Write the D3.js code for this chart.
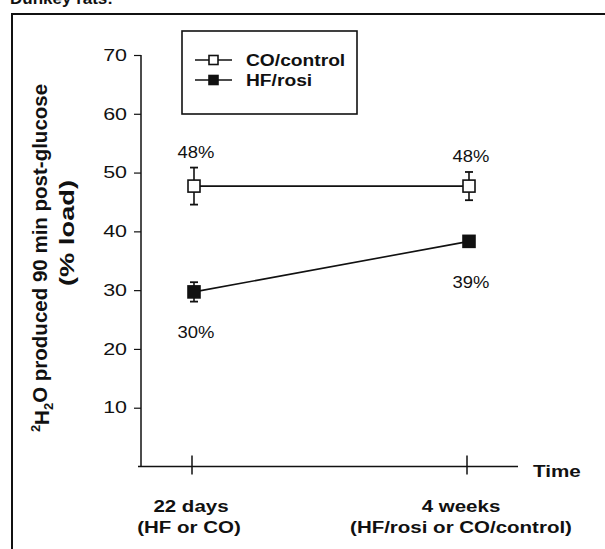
<!DOCTYPE html>
<html lang="en">
<head>
  <meta charset="UTF-8">
  <title>2H2O produced 90 min post-glucose</title>
  <script src="https://d3js.org/d3.v7.min.js"></script>
  <style>
    body { margin: 0; background: #fff; font-family: "Liberation Sans", Arial, sans-serif; }
    text { fill: #111; }
    .bold { font-weight: bold; }
  </style>
</head>
<body>
  <svg width="605" height="549"></svg>
  <script>
    // Data
    const timepoints = ["22 days", "4 weeks"];
    const timeSub = ["(HF or CO)", "(HF/rosi or CO/control)"];
    const seriesNames = ["CO/control", "HF/rosi"];
    const coMean = [47.7, 47.7];
    const coErr = [3.15, 2.4];
    const hfMean = [29.7, 38.3];
    const hfErr = [1.65, 0.9];
    const pctLabels = [["48%", "48%"], ["30%", "39%"]];
    const yTicks = [10, 20, 30, 40, 50, 60, 70];

    const width = 605, height = 549;
    const svg = d3.select("svg").attr("width", width).attr("height", height);

    // the scanned figure is a bit wider than tall: stretch horizontal text
    function stretch(sel, k) {
      sel.each(function () {
        const w = this.getComputedTextLength();
        d3.select(this).attr("textLength", w * k).attr("lengthAdjust", "spacingAndGlyphs");
      });
    }

    // Outer frame (cut by the page edges) and cut-off heading
    svg.append("text").attr("class", "bold").attr("x", 10).attr("y", 4)
       .style("font-size", "17px").text("Dunkey rats:");
    svg.append("path").attr("d", "M12,549 V14 H605")
       .attr("fill", "none").attr("stroke", "#111").attr("stroke-width", 2);

    const y = d3.scaleLinear().domain([0, 70]).range([466.5, 55]);
    const x = d3.scalePoint().domain(timepoints).range([194, 469]);

    // Y axis
    const yAxis = svg.append("g").attr("transform", "translate(141,0)")
      .call(d3.axisLeft(y).tickValues(yTicks).tickSize(7).tickPadding(7).tickSizeOuter(0));
    yAxis.select(".domain").attr("d", "M0," + y(70) + "V" + y(0)).attr("stroke", "#111").attr("stroke-width", 1.5);
    yAxis.selectAll(".tick line").attr("stroke", "#111").attr("stroke-width", 1.2);
    yAxis.selectAll(".tick text").style("font-size", "16.5px")
         .style("font-family", "'Liberation Sans', Arial, sans-serif").attr("fill", "#111")
         .call(stretch, 1.3);

    // X axis line with ticks and "Time"
    svg.append("line").attr("x1", 138).attr("x2", 518).attr("y1", y(0)).attr("y2", y(0))
       .attr("stroke", "#111").attr("stroke-width", 1.5);
    svg.selectAll(".xtick").data(timepoints).enter().append("line")
       .attr("x1", d => x(d) - 2).attr("x2", d => x(d) - 2)
       .attr("y1", y(0) - 11).attr("y2", y(0) + 8)
       .attr("stroke", "#111").attr("stroke-width", 1.5);
    svg.append("text").attr("class", "bold").attr("x", 533).attr("y", y(0) + 10)
       .style("font-size", "16.5px").text("Time").call(stretch, 1.25);

    svg.selectAll(".xl1").data(timepoints).enter().append("text")
       .attr("class", "bold").attr("text-anchor", "middle")
       .attr("x", (d, i) => x(d) - (i ? 8 : 3)).attr("y", 512)
       .style("font-size", "16px").text(d => d).call(stretch, 1.28);
    svg.selectAll(".xl2").data(timeSub).enter().append("text")
       .attr("class", "bold").attr("text-anchor", "middle")
       .attr("x", (d, i) => x(timepoints[i]) - (i ? 8 : 5)).attr("y", 533)
       .style("font-size", "16px").text(d => d).call(stretch, 1.28);

    // Y axis title
    const yt = svg.append("text").attr("class", "bold").attr("text-anchor", "middle")
       .attr("transform", "translate(46,258) rotate(-90)").style("font-size", "20.5px");
    yt.append("tspan").attr("dy", "-0.45em").style("font-size", "13px").text("2");
    yt.append("tspan").attr("dy", "0.45em").text("H");
    yt.append("tspan").attr("dy", "0.3em").style("font-size", "13px").text("2");
    yt.append("tspan").attr("dy", "-0.3em").text("O produced 90 min post-glucose");
    svg.append("text").attr("class", "bold").attr("text-anchor", "middle")
       .attr("transform", "translate(74,233) rotate(-90)").style("font-size", "21px")
       .text("(% load)").call(stretch, 1.3);

    // Series
    const series = [
      { name: seriesNames[0], mean: coMean, err: coErr, fill: "#fff" },
      { name: seriesNames[1], mean: hfMean, err: hfErr, fill: "#111" }
    ];
    const line = d3.line().x((d, i) => x(timepoints[i])).y(d => y(d));
    const sq = 12;

    series.forEach((s, si) => {
      const g = svg.append("g");
      g.append("path").attr("d", line(s.mean)).attr("fill", "none")
       .attr("stroke", "#111").attr("stroke-width", 1.6);
      s.mean.forEach((m, i) => {
        const cx = x(timepoints[i]);
        g.append("line").attr("x1", cx).attr("x2", cx)
         .attr("y1", y(m + s.err[i])).attr("y2", y(m - s.err[i]))
         .attr("stroke", "#111").attr("stroke-width", 1.6);
        [m + s.err[i], m - s.err[i]].forEach(v => {
          g.append("line").attr("x1", cx - 4).attr("x2", cx + 4)
           .attr("y1", y(v)).attr("y2", y(v)).attr("stroke", "#111").attr("stroke-width", 1.8);
        });
        g.append("rect").attr("x", cx - sq / 2).attr("y", y(m) - sq / 2)
         .attr("width", sq).attr("height", sq)
         .attr("fill", s.fill).attr("stroke", "#111").attr("stroke-width", 1.6);
      });
    });

    // Percent labels
    const labelPos = [[158, 162], [338, 288]];
    pctLabels.forEach((row, si) => {
      row.forEach((t, i) => {
        svg.append("text").attr("text-anchor", "middle")
           .attr("x", x(timepoints[i]) + 2).attr("y", labelPos[si][i])
           .style("font-size", "16px").text(t).call(stretch, 1.15);
      });
    });

    // Legend
    const lg = svg.append("g");
    lg.append("rect").attr("x", 182).attr("y", 31).attr("width", 175).attr("height", 83)
      .attr("fill", "#fff").attr("stroke", "#111").attr("stroke-width", 1.6);
    series.forEach((s, i) => {
      const ly = 60 + i * 20;
      lg.append("line").attr("x1", 195).attr("x2", 232).attr("y1", ly).attr("y2", ly)
        .attr("stroke", "#111").attr("stroke-width", 1.6);
      lg.append("rect").attr("x", 209).attr("y", ly - 4.5).attr("width", 9).attr("height", 9)
        .attr("fill", s.fill).attr("stroke", "#111").attr("stroke-width", 1.6);
      lg.append("text").attr("class", "bold").attr("x", 246).attr("y", ly + 6)
        .style("font-size", "16px").text(s.name).call(stretch, 1.2);
    });
  </script>
</body>
</html>
